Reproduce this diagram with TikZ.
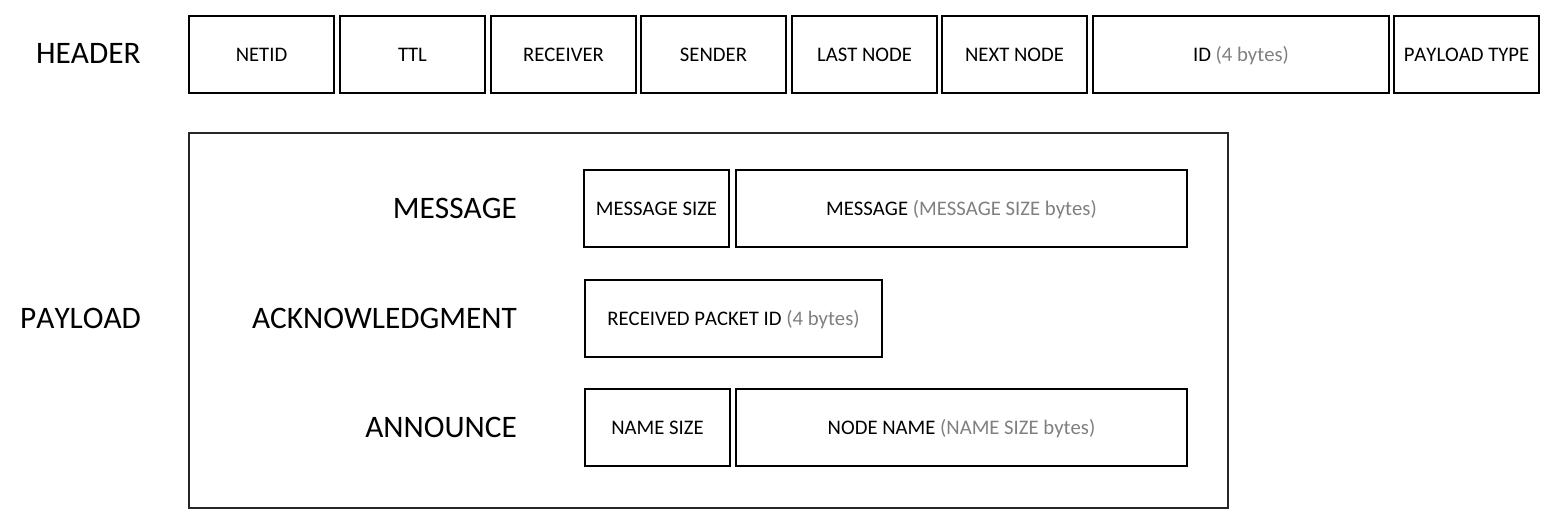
\documentclass[tikz,border=0pt]{standalone}
\usepackage{fontspec}
\setmainfont{Carlito}[Kerning=Off]
\definecolor{note}{RGB}{128,128,128}
\begin{document}
\begin{tikzpicture}[x=1pt,y=-1pt,
  field/.style={draw=black, line width=1.8pt, inner sep=0pt,
    minimum height=77pt, font=\fontsize{20.7}{24}\selectfont,
    text height=13.3pt, text depth=0pt},
  bigbox/.style={draw=black!85, line width=1.8pt, inner sep=0pt},
  biglabel/.style={inner sep=0pt, font=\fontsize{31.3}{36}\selectfont,
    text height=20.1pt, text depth=0pt}]
\useasboundingbox[fill=white] (0,0) rectangle (1560,530);

% header
\node[biglabel, anchor=west] (hdr) at (36,53.5) {HEADER};
\node[field, minimum width=145pt] (netid) at (261.5,54.5) {NETID};
\node[field, minimum width=145pt] (ttl) at (412.5,54.5) {TTL};
\node[field, minimum width=145pt] (recv) at (563.5,54.5) {RECEIVER};
\node[field, minimum width=145pt] (send) at (713.5,54.5) {SENDER};
\node[field, minimum width=145pt] (last) at (864.5,54.5) {LAST NODE};
\node[field, minimum width=145pt] (next) at (1014.5,54.5) {NEXT NODE};
\node[field, minimum width=296pt] (id) at (1241,54.5) {ID \textcolor{note}{(4 bytes)}};
\node[field, minimum width=145pt] (ptype) at (1466.5,54.5) {PAYLOAD TYPE};

% payload
\node[biglabel, anchor=west] (pl) at (20,318) {PAYLOAD};
\node[bigbox, minimum width=1039pt, minimum height=375pt] (plbox) at (708.5,320.5) {};

\node[biglabel, anchor=east] (lmsg) at (517,208.5) {MESSAGE};
\node[field, minimum width=145pt, minimum height=77pt] (msize) at (656.5,208.5) {MESSAGE SIZE};
\node[field, minimum width=451pt, minimum height=77pt] (msg) at (961.5,208.5) {MESSAGE \textcolor{note}{(MESSAGE SIZE bytes)}};

\node[biglabel, anchor=east] (lack) at (517,318.5) {ACKNOWLEDGMENT};
\node[field, minimum width=297pt, minimum height=77pt] (rpid) at (733.5,318.5) {RECEIVED PACKET ID \textcolor{note}{(4 bytes)}};

\node[biglabel, anchor=east] (lann) at (517,427.5) {ANNOUNCE};
\node[field, minimum width=145pt, minimum height=77pt] (nsize) at (657.5,427.5) {NAME SIZE};
\node[field, minimum width=451pt, minimum height=77pt] (nname) at (961.5,427.5) {NODE NAME \textcolor{note}{(NAME SIZE bytes)}};
\end{tikzpicture}
\end{document}
